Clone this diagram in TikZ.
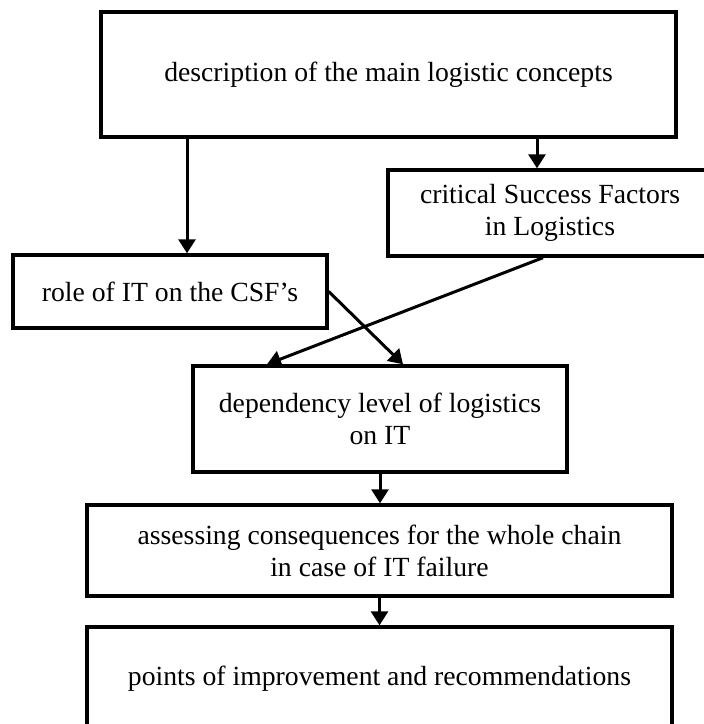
\documentclass[tikz,border=0pt]{standalone}
\usepackage{fontspec}
\setmainfont{Liberation Serif}
\usetikzlibrary{arrows.meta}

\tikzset{
  stepbox/.style={draw=black, line width=3.4pt, rectangle, inner sep=0pt,
    align=center, font=\fontsize{27.7}{32}\selectfont},
  arr/.style={draw=black, line width=3pt,
    -{Triangle[length=14pt,width=17pt]}},
}

\begin{document}
\begin{tikzpicture}[x=1pt,y=-1pt]
  \useasboundingbox (0,0) rectangle (704,724);
  \clip (0,0) rectangle (704,724);

  % flowchart boxes
  \node[stepbox, minimum width=575pt, minimum height=125pt] (desc) at (388.5,74.5)
    {description of the main logistic concepts};
  \node[stepbox, minimum width=324pt, minimum height=86pt] (csf) at (550,213)
    {critical Success Factors\\in Logistics};
  \node[stepbox, minimum width=314pt, minimum height=73pt] (role) at (170,291.5)
    {role of IT on the CSF’s};
  \node[stepbox, minimum width=374pt, minimum height=106pt] (dep) at (380,419)
    {dependency level of logistics\\on IT};
  \node[stepbox, minimum width=585pt, minimum height=91pt] (assess) at (379.5,550.5)
    {assessing consequences for the whole chain\\in case of IT failure};
  \node[stepbox, minimum width=585pt, minimum height=103pt] (points) at (379.5,678.5)
    {points of improvement and recommendations};

  % arrow end points on the box edges
  \coordinate (roleIn) at ([xshift=17pt]role.north);
  \coordinate (csfIn)  at ([xshift=-13pt]csf.north);
  \coordinate (csfOut) at ([xshift=-7pt]csf.south);
  \coordinate (depInL) at ([xshift=-113pt]dep.north);
  \coordinate (depInR) at ([xshift=23pt]dep.north);

  % connectors
  \draw[arr] (desc.south -| roleIn) -- (roleIn);
  \draw[arr] (desc.south -| csfIn) -- (csfIn);
  \draw[arr] (csfOut) -- (depInL);
  \draw[arr] (role.east) -- (depInR);
  \draw[arr] (dep.south) -- (dep.south |- assess.north);
  \draw[arr] (assess.south) -- (assess.south |- points.north);
\end{tikzpicture}
\end{document}
